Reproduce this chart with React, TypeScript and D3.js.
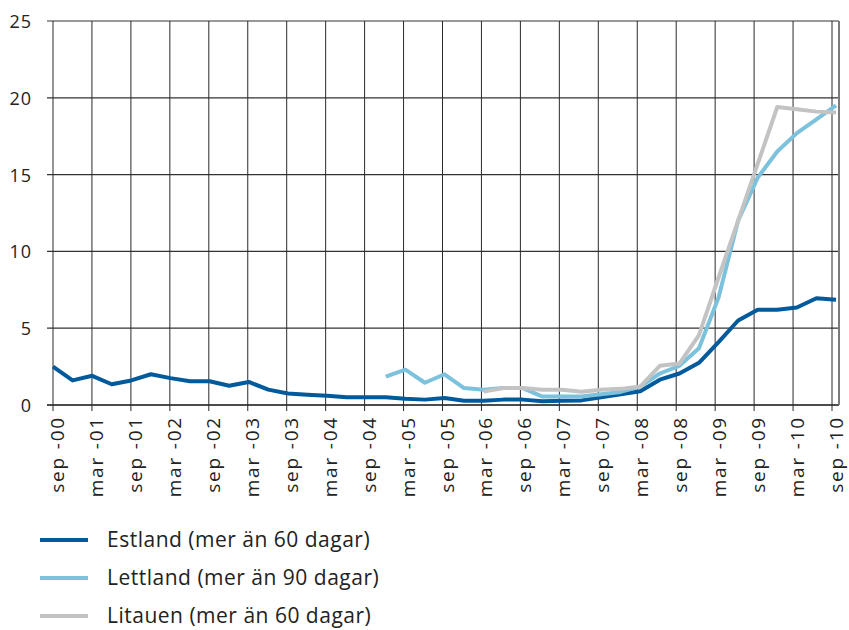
import React, { useEffect, useRef } from "react";
import * as d3 from "d3";

// quarterly observations sep-00 .. sep-10 (41 quarters)
const quarters = [
  "sep-00", "dec-00", "mar-01", "jun-01", "sep-01", "dec-01", "mar-02", "jun-02",
  "sep-02", "dec-02", "mar-03", "jun-03", "sep-03", "dec-03", "mar-04", "jun-04",
  "sep-04", "dec-04", "mar-05", "jun-05", "sep-05", "dec-05", "mar-06", "jun-06",
  "sep-06", "dec-06", "mar-07", "jun-07", "sep-07", "dec-07", "mar-08", "jun-08",
  "sep-08", "dec-08", "mar-09", "jun-09", "sep-09", "dec-09", "mar-10", "jun-10",
  "sep-10",
];

const estland = [
  2.5, 1.6, 1.9, 1.35, 1.6, 2.0, 1.75, 1.55, 1.55, 1.25, 1.5, 1.0, 0.75, 0.67,
  0.6, 0.5, 0.5, 0.5, 0.4, 0.35, 0.45, 0.28, 0.28, 0.35, 0.35, 0.25, 0.28, 0.3,
  0.5, 0.7, 0.9, 1.65, 2.05, 2.75, 4.1, 5.5, 6.2, 6.2, 6.35, 6.95, 6.85,
];

// starts dec-04
const lettlandStart = "dec-04";
const lettland = [
  1.85, 2.3, 1.45, 2.0, 1.1, 1.0, 1.1, 1.1, 0.55, 0.55, 0.55, 0.7, 0.85, 1.2,
  2.05, 2.55, 3.7, 7.0, 12.0, 14.8, 16.5, 17.7, 18.6, 19.5,
];

// starts mar-06
const litauenStart = "mar-06";
const litauen = [
  0.87, 1.1, 1.1, 1.0, 1.0, 0.87, 1.0, 1.05, 1.2, 2.55, 2.7, 4.55, 8.3, 12.0,
  15.7, 19.4, 19.25, 19.1, 19.05,
];

const tickLabels = [
  "sep -00", "mar -01", "sep -01", "mar -02", "sep -02", "mar -03", "sep -03",
  "mar -04", "sep -04", "mar -05", "sep -05", "mar -06", "sep -06", "mar -07",
  "sep -07", "mar -08", "sep -08", "mar -09", "sep -09", "mar -10", "sep -10",
];

const yTicks = [0, 5, 10, 15, 20, 25];

const seriesNames = [
  "Estland (mer än 60 dagar)",
  "Lettland (mer än 90 dagar)",
  "Litauen (mer än 60 dagar)",
];
const colors = ["#005A9C", "#7CC2DC", "#C3C3C3"];

const FONT = "'Open Sans', 'Noto Sans', sans-serif";

export default function App() {
  const ref = useRef<SVGSVGElement>(null);

  useEffect(() => {
    const svg = d3.select(ref.current);
    svg.selectAll("*").remove();

    const left = 53;
    const right = 839;
    const top = 21;
    const bottom = 405;

    // points and half-year grid use slightly different spacing (as in original)
    const x = d3.scaleLinear().domain([0, quarters.length - 1]).range([left, 836]);
    const xGrid = d3.scaleLinear().domain([0, tickLabels.length - 1]).range([left, 832]);
    const y = d3.scaleLinear().domain([0, 25]).range([bottom, top]);

    const g = svg.append("g");

    // horizontal grid
    g.selectAll(".hgrid")
      .data(yTicks)
      .enter()
      .append("line")
      .attr("x1", left - 6)
      .attr("x2", right)
      .attr("y1", (d) => y(d))
      .attr("y2", (d) => y(d))
      .attr("stroke", (d) => (d === 0 ? "#111" : "#333"))
      .attr("stroke-width", (d) => (d === 0 ? 1.4 : 1.2));

    // vertical grid + ticks
    g.selectAll(".vgrid")
      .data(tickLabels)
      .enter()
      .append("line")
      .attr("x1", (_, i) => xGrid(i))
      .attr("x2", (_, i) => xGrid(i))
      .attr("y1", top)
      .attr("y2", bottom + 6)
      .attr("stroke", "#2a2a2a")
      .attr("stroke-width", 1);

    // right border
    g.append("line")
      .attr("x1", right)
      .attr("x2", right)
      .attr("y1", top)
      .attr("y2", bottom)
      .attr("stroke", "#7a7a7a")
      .attr("stroke-width", 2);

    // y labels
    g.selectAll(".ylab")
      .data(yTicks)
      .enter()
      .append("text")
      .attr("x", 32)
      .attr("y", (d) => y(d) + 7)
      .attr("text-anchor", "end")
      .attr("font-family", FONT)
      .attr("font-size", 18)
      .attr("letter-spacing", 1)
      .attr("fill", "#222")
      .text((d) => d);

    // x labels, rotated
    g.selectAll(".xlab")
      .data(tickLabels)
      .enter()
      .append("text")
      .attr("transform", (_, i) => `translate(${xGrid(i) + 11},${bottom + 11}) rotate(-90)`)
      .attr("text-anchor", "end")
      .attr("font-family", FONT)
      .attr("font-size", 19)
      .attr("letter-spacing", 1.8)
      .attr("fill", "#222")
      .text((d) => d);

    const line = d3
      .line<{ i: number; v: number }>()
      .x((d) => x(d.i))
      .y((d) => y(d.v));

    const toPts = (vals: number[], start: number) => vals.map((v, k) => ({ i: start + k, v }));

    const series = [
      toPts(estland, 0),
      toPts(lettland, quarters.indexOf(lettlandStart)),
      toPts(litauen, quarters.indexOf(litauenStart)),
    ];

    [0, 1, 2].forEach((s) => {
      g.append("path")
        .datum(series[s])
        .attr("d", line)
        .attr("fill", "none")
        .attr("stroke", colors[s])
        .attr("stroke-width", 4)
        .attr("stroke-linejoin", "round");
    });

    // legend
    const leg = svg.append("g");
    seriesNames.forEach((name, i) => {
      const ly = 540 + i * 38;
      leg.append("line")
        .attr("x1", 40)
        .attr("x2", 88)
        .attr("y1", ly)
        .attr("y2", ly)
        .attr("stroke", colors[i])
        .attr("stroke-width", 4);
      leg.append("text")
        .attr("x", 107)
        .attr("y", ly + 7)
        .attr("font-family", FONT)
        .attr("font-size", 21)
        .attr("letter-spacing", 0.5)
        .attr("fill", "#222")
        .text(name);
    });
  }, []);

  return (
    <svg
      ref={ref}
      width={849}
      height={630}
      style={{ position: "absolute", left: 0, top: 0, background: "#fff" }}
    />
  );
}
